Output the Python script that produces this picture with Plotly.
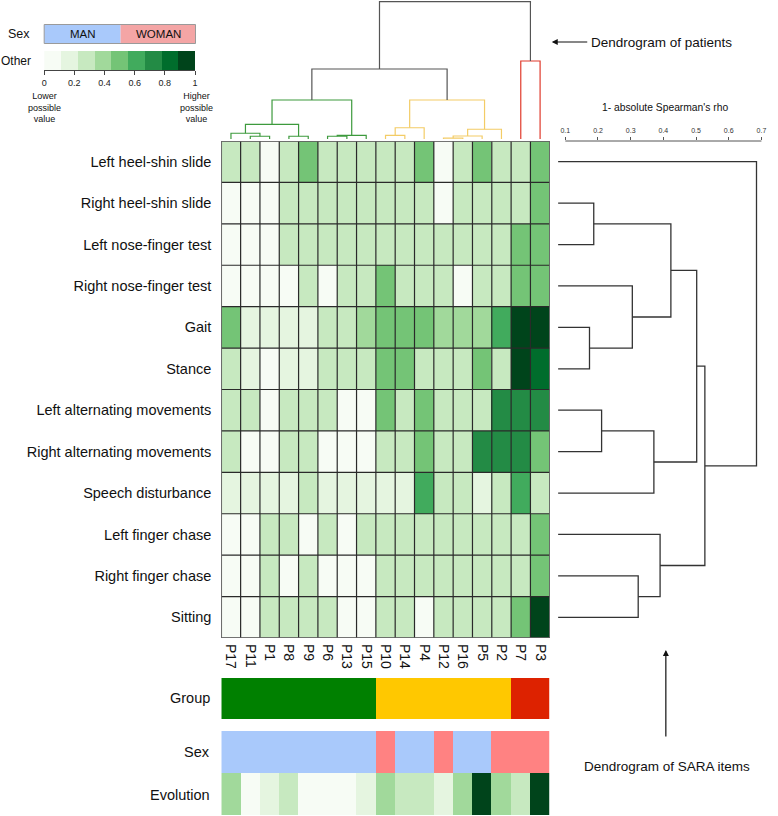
import plotly.graph_objects as go

W, H = 778, 816

patients = ["P17", "P11", "P1", "P8", "P9", "P6", "P13", "P15", "P10",
            "P14", "P4", "P12", "P16", "P5", "P2", "P7", "P3"]
items = ["Left heel-shin slide", "Right heel-shin slide", "Left nose-finger test",
         "Right nose-finger test", "Gait", "Stance", "Left alternating movements",
         "Right alternating movements", "Speech disturbance", "Left finger chase",
         "Right finger chase", "Sitting"]

left_heel_shin = [.27, .27, .05, .27, .50, .27, .27, .27, .27, .27, .50, .05, .27, .50, .27, .27, .50]
right_heel_shin = [.05, .05, .05, .27, .27, .27, .27, .27, .27, .27, .27, .05, .27, .27, .27, .27, .50]
left_nose_finger = [.05, .05, .05, .27, .27, .27, .27, .27, .27, .27, .27, .27, .27, .27, .27, .50, .50]
right_nose_finger = [.05, .05, .05, .05, .27, .05, .27, .27, .50, .27, .27, .27, .05, .27, .27, .50, .50]
gait = [.50, .16, .16, .16, .16, .27, .27, .38, .50, .50, .50, .38, .38, .38, .61, .95, .95]
stance = [.27, .16, .05, .16, .16, .27, .27, .27, .50, .50, .27, .27, .27, .50, .27, .95, .83]
left_alt = [.27, .27, .05, .27, .27, .27, .05, .05, .50, .27, .50, .27, .27, .27, .72, .72, .72]
right_alt = [.27, .05, .05, .27, .27, .05, .05, .05, .27, .27, .50, .27, .27, .72, .72, .72, .50]
speech = [.16, .16, .16, .16, .27, .16, .16, .16, .16, .16, .61, .27, .27, .16, .27, .61, .27]
left_chase = [.05, .05, .27, .27, .05, .27, .05, .27, .27, .27, .27, .27, .27, .27, .27, .27, .50]
right_chase = [.05, .05, .27, .05, .27, .05, .05, .05, .27, .27, .27, .27, .27, .27, .27, .27, .50]
sitting = [.05, .05, .27, .27, .27, .27, .05, .05, .27, .27, .05, .27, .27, .27, .27, .50, .95]
scores = [left_heel_shin, right_heel_shin, left_nose_finger, right_nose_finger, gait,
          stance, left_alt, right_alt, speech, left_chase, right_chase, sitting]

evolution = [.38, .05, .16, .27, .05, .05, .05, .16, .38, .27, .27, .16, .38, .95, .38, .27, .95]
group = [0] * 8 + [1] * 7 + [2] * 2
sex = [0] * 8 + [1, 0, 0, 1, 0, 0, 1, 1, 1]   # 0 = MAN, 1 = WOMAN

# patient dendrogram: (a, b, height) ; heights relative to top merge
patient_merges = [
    ("P11", "P1", 0.020), ("P17", "m0", 0.042), ("P8", "P9", 0.020),
    ("m1", "m2", 0.107), ("P6", "P13", 0.020), ("m4", "P15", 0.027),
    ("m3", "m5", 0.284),
    ("P10", "P14", 0.027), ("m7", "P4", 0.082), ("P12", "P16", 0.006),
    ("m9", "P5", 0.022), ("m10", "P2", 0.071), ("m8", "m11", 0.284),
    ("m6", "m12", 0.510), ("P7", "P3", 0.568), ("m13", "m14", 1.0),
]
patient_merge_colors = ["#3d9a3d"] * 7 + ["#f3cc66"] * 6 + ["#555555", "#e0392b", "#555555"]

# SARA items dendrogram (1 - |Spearman rho|)
item_merges = [
    ("Right heel-shin slide", "Left nose-finger test", 0.187),
    ("Gait", "Stance", 0.174),
    ("Right nose-finger test", "m1", 0.305),
    ("m0", "m2", 0.423),
    ("Left alternating movements", "Right alternating movements", 0.211),
    ("m4", "Speech disturbance", 0.371),
    ("m3", "m5", 0.502),
    ("Right finger chase", "Sitting", 0.323),
    ("Left finger chase", "m7", 0.390),
    ("m6", "m8", 0.527),
    ("Left heel-shin slide", "m9", 0.685),
]
item_leaf_base = 0.078
rho_ticks = [0.1, 0.2, 0.3, 0.4, 0.5, 0.6, 0.7]

greens = ["#F7FCF5", "#E5F5E0", "#C7E9C0", "#A1D99B", "#74C476",
          "#41AB5D", "#238B45", "#006D2C", "#00441B"]
legend_ticks = [0, 0.2, 0.4, 0.6, 0.8, 1]

FONT = "Liberation Sans, Arial, sans-serif"


def px_x(p):
    return p / W


def px_y(p):
    return 1 - p / H


def dendro(merges, leaf_pos, base):
    pos = dict(leaf_pos)
    hgt = {k: base for k in leaf_pos}
    out = []
    for i, (a, b, h) in enumerate(merges):
        pa, pb = pos[a], pos[b]
        out.append(([pa, pa, pb, pb], [hgt[a], h, h, hgt[b]]))
        pos["m%d" % i] = (pa + pb) / 2
        hgt["m%d" % i] = h
    return out


step_scale = []
for i, c in enumerate(greens):
    step_scale += [[i / 9, c], [(i + 1) / 9, c]]

nP, nI = len(patients), len(items)
cols = list(range(nP))
rows = list(range(nI))

fig = go.Figure()

# main heatmap
fig.add_trace(go.Heatmap(z=scores, x=cols, y=rows, colorscale=step_scale, zmin=0, zmax=1,
                         showscale=False, hoverinfo="skip", xaxis="x", yaxis="y"))
# grid lines
gx, gy = [], []
for k in range(nP + 1):
    gx += [k - 0.5, k - 0.5, None]
    gy += [-0.5, nI - 0.5, None]
for k in range(nI + 1):
    gx += [-0.5, nP - 0.5, None]
    gy += [k - 0.5, k - 0.5, None]
fig.add_trace(go.Scatter(x=gx, y=gy, mode="lines", line=dict(color="#2a2a2a", width=1.2),
                         hoverinfo="skip", showlegend=False, xaxis="x", yaxis="y"))

# patient dendrogram
for (xs, ys), col in zip(dendro(patient_merges, {p: i for i, p in enumerate(patients)}, 0.0),
                         patient_merge_colors):
    fig.add_trace(go.Scatter(x=xs, y=ys, mode="lines", line=dict(color=col, width=1.2),
                             hoverinfo="skip", showlegend=False, xaxis="x", yaxis="y2"))

# item dendrogram
for xs, ys in dendro(item_merges, {it: i for i, it in enumerate(items)}, item_leaf_base):
    fig.add_trace(go.Scatter(x=ys, y=xs, mode="lines", line=dict(color="#333333", width=1.3),
                             hoverinfo="skip", showlegend=False, xaxis="x3", yaxis="y"))

# annotation bars
fig.add_trace(go.Heatmap(z=[group], x=cols, y=[0], zmin=0, zmax=2,
                         colorscale=[[0, "#008000"], [0.5, "#FFC800"], [1, "#DD2200"]],
                         showscale=False, hoverinfo="skip", xaxis="x", yaxis="y4"))
fig.add_trace(go.Heatmap(z=[sex], x=cols, y=[0], zmin=0, zmax=1,
                         colorscale=[[0, "#A9C9FB"], [1, "#FF8282"]],
                         showscale=False, hoverinfo="skip", xaxis="x", yaxis="y5"))
fig.add_trace(go.Heatmap(z=[evolution], x=cols, y=[0], colorscale=step_scale, zmin=0, zmax=1,
                         showscale=False, hoverinfo="skip", xaxis="x", yaxis="y6"))

# colour legend
fig.add_trace(go.Heatmap(z=[[(i + 0.5) / 9 for i in range(9)]],
                         x=[(i + 0.5) / 9 for i in range(9)], y=[0],
                         colorscale=step_scale, zmin=0, zmax=1, showscale=False,
                         hoverinfo="skip", xaxis="x4", yaxis="y7"))

hidden = dict(visible=False, showgrid=False, zeroline=False)

fig.update_layout(
    width=W, height=H, autosize=False,
    margin=dict(l=0, r=0, t=0, b=0),
    paper_bgcolor="white", plot_bgcolor="white",
    font=dict(family=FONT, color="#111111", size=14),
    showlegend=False,
    xaxis=dict(domain=[px_x(220), px_x(551)], range=[-0.5, nP - 0.5], anchor="y",
               tickvals=cols, ticktext=patients, tickangle=90, ticks="",
               showgrid=False, zeroline=False, showline=False,
               tickfont=dict(size=14, family=FONT), ticklabelstandoff=5),
    yaxis=dict(domain=[px_y(638), px_y(141)], range=[nI - 0.5, -0.5], anchor="x",
               tickvals=rows, ticktext=items, ticks="", showgrid=False, zeroline=False,
               tickfont=dict(size=14.5, family=FONT), ticklabelstandoff=9),
    yaxis2=dict(domain=[px_y(139), 1.0], range=[0, 139 / 137.3], anchor="x", **hidden),
    xaxis3=dict(domain=[px_x(555), px_x(775)], range=[0.0645, 0.7325], anchor="y",
                side="top", tickvals=rho_ticks, ticks="outside", ticklen=3,
                tickcolor="#555555", showline=False, showgrid=False, zeroline=False,
                tickfont=dict(size=7, family=FONT, color="#333333"), ticklabelstandoff=1),
    yaxis4=dict(domain=[px_y(719), px_y(678)], range=[-0.5, 0.5], anchor="x", **hidden),
    yaxis5=dict(domain=[px_y(773), px_y(731)], range=[-0.5, 0.5], anchor="x", **hidden),
    yaxis6=dict(domain=[px_y(815), px_y(773)], range=[-0.5, 0.5], anchor="x", **hidden),
    xaxis4=dict(domain=[px_x(41.5), px_x(193.5)], range=[0, 1], anchor="y7",
                tickvals=legend_ticks, ticktext=["0", "0.2", "0.4", "0.6", "0.8", "1"],
                ticks="outside", ticklen=4, tickcolor="#444444", showline=True,
                linecolor="#444444", linewidth=1, showgrid=False, zeroline=False,
                tickfont=dict(size=9, family=FONT, color="#222222")),
    yaxis7=dict(domain=[px_y(70), px_y(51)], range=[-0.5, 0.5], anchor="x4", **hidden),
)

shapes = [
    dict(type="rect", xref="x", yref="y", x0=-0.5, x1=nP - 0.5, y0=-0.5, y1=nI - 0.5,
         line=dict(color="#6a6a6a", width=1.5)),
    dict(type="line", xref="x3", yref="paper", x0=rho_ticks[0], x1=rho_ticks[-1],
         y0=px_y(141), y1=px_y(141), line=dict(color="#555555", width=1)),
    dict(type="rect", xref="paper", yref="paper", x0=px_x(41.5), x1=px_x(118.5),
         y0=px_y(43.5), y1=px_y(24.5), fillcolor="#A9C9FB", line=dict(width=0)),
    dict(type="rect", xref="paper", yref="paper", x0=px_x(118.5), x1=px_x(194),
         y0=px_y(43.5), y1=px_y(24.5), fillcolor="#F4A5A5", line=dict(width=0)),
    dict(type="rect", xref="paper", yref="paper", x0=px_x(41.5), x1=px_x(194),
         y0=px_y(43.5), y1=px_y(24.5), line=dict(color="#9a9a9a", width=1)),
]
fig.update_layout(shapes=shapes)


def ann(text, x, y, size, xanchor="center", yanchor="middle", color="#111111"):
    return dict(text=text, x=px_x(x), y=px_y(y), xref="paper", yref="paper",
                showarrow=False, xanchor=xanchor, yanchor=yanchor,
                font=dict(size=size, family=FONT, color=color))


annotations = [
    ann("Group", 211, 698, 14.5, xanchor="right"),
    ann("Sex", 211, 752, 14.5, xanchor="right"),
    ann("Evolution", 211, 795, 14.5, xanchor="right"),
    ann("Sex", 29, 34, 12.5, xanchor="right"),
    ann("Other", 30, 61, 12, xanchor="right"),
    ann("MAN", 80.5, 34, 11.5),
    ann("WOMAN", 156.5, 34, 11.5),
    ann("Lower<br>possible<br>value", 41.5, 108, 9),
    ann("Higher<br>possible<br>value", 195, 108, 9),
    ann("1- absolute Spearman's rho", 667, 108, 10.3),
    ann("Dendrogram of patients", 591, 42, 13.5, xanchor="left"),
    ann("Dendrogram of SARA items", 669, 766, 13.5),
    dict(text="", x=px_x(553), y=px_y(42), xref="paper", yref="paper",
         showarrow=True, ax=37, ay=0, arrowhead=2, arrowsize=1, arrowwidth=1.2,
         arrowcolor="#111111"),
    dict(text="", x=px_x(668), y=px_y(650), xref="paper", yref="paper",
         showarrow=True, ax=0, ay=88, arrowhead=2, arrowsize=1, arrowwidth=1.2,
         arrowcolor="#111111"),
]
fig.update_layout(annotations=annotations)

fig.write_html("out.html", config={"displayModeBar": False},
               post_script="document.body.style.margin='0';document.body.style.overflow='hidden';")
